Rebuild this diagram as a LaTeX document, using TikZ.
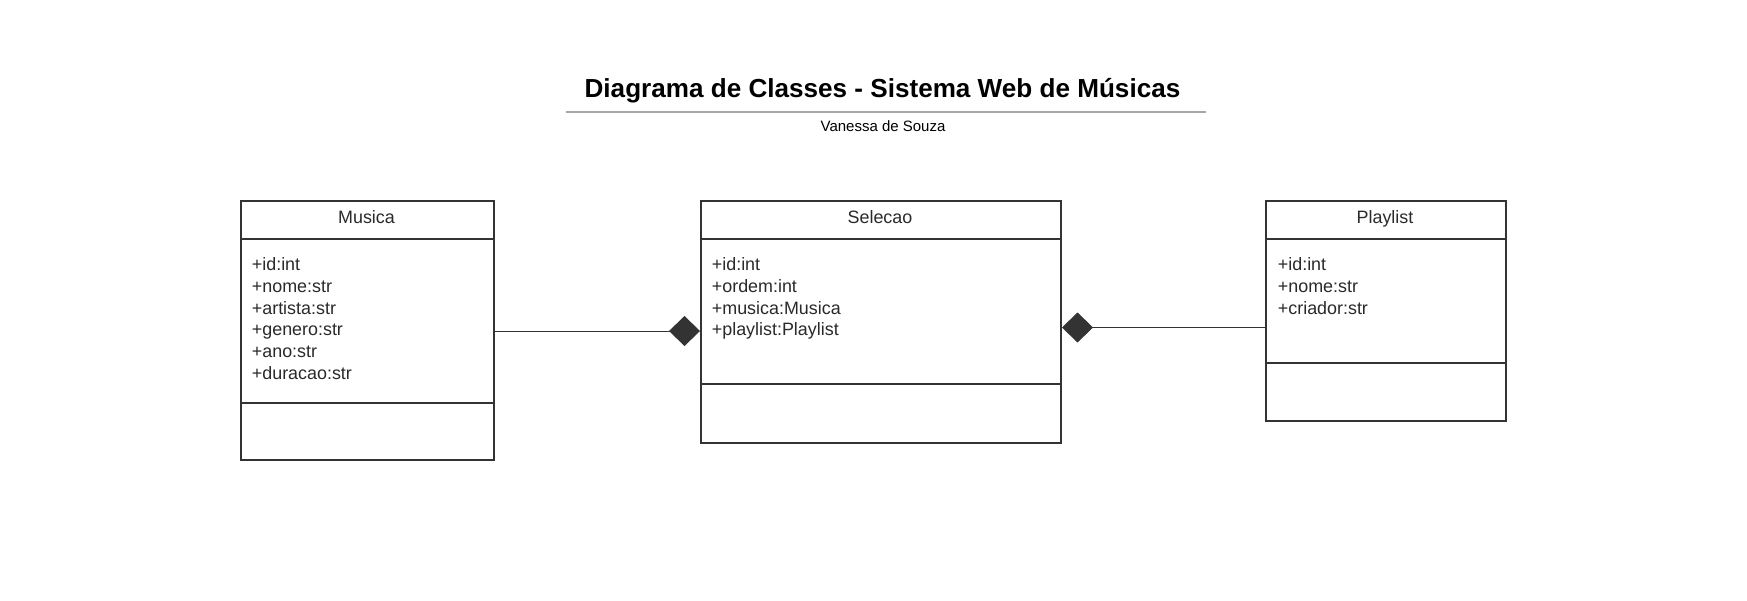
\documentclass[tikz,border=0pt]{standalone}
\usepackage{fontspec}
\setmainfont{Liberation Sans}
\usetikzlibrary{arrows.meta,calc}
\definecolor{boxc}{HTML}{333333}
\definecolor{textc}{HTML}{2A2A2A}
\definecolor{rulec}{HTML}{A6A6A6}
\tikzset{
  compart/.style={draw=boxc, line width=2pt, anchor=north west, inner sep=0pt, fill=white},
  hdrtext/.style={anchor=base, inner sep=0pt, text=textc, font=\fontsize{17.9}{21.7}\selectfont},
  attrtext/.style={anchor=base west, inner sep=0pt, text=textc, font=\fontsize{17.9}{21.7}\selectfont},
  titletext/.style={anchor=base, inner sep=0pt, text=black, font=\bfseries\fontsize{26.1}{30}\selectfont},
  subtext/.style={anchor=base, inner sep=0pt, text=black, font=\fontsize{15}{18}\selectfont},
  titlerule/.style={draw=rulec, line width=2pt},
  assoc/.style={draw=boxc, line width=1pt},
  comptip/.tip={Diamond[length=31pt, width=30pt, fill=boxc, color=boxc]}
}
\begin{document}
\begin{tikzpicture}[x=1pt,y=-1pt]
\useasboundingbox[fill=white] (0,0) rectangle (1747,600);

% title
\node[titletext] (title) at (882.5,97.7) {Diagrama de Classes - Sistema Web de Músicas};
\coordinate (ruleL) at (566,111.7);
\coordinate (ruleR) at (1206,111.7);
\draw[titlerule] (ruleL) -- (ruleR);
\node[subtext] (subtitle) at (883,131) {Vanessa de Souza};

% Musica
\node[compart, minimum width=253pt, minimum height=37.7pt] (musH) at (240,200) {};
\node[compart, minimum width=253pt, minimum height=164.6pt] (musA) at (240,237.7) {};
\node[compart, minimum width=253pt, minimum height=57pt] (musM) at (240,402.3) {};
\node[hdrtext] (musT) at (366.5,223.3) {Musica};
\foreach [count=\i] \t in {+id:int,+nome:str,+artista:str,+genero:str,+ano:str,+duracao:str}
  \node[attrtext] (mus-\i) at (251.7,{270.8+21.65*(\i-1)}) {\t};

% Selecao
\node[compart, minimum width=360pt, minimum height=37.7pt] (selH) at (700,200) {};
\node[compart, minimum width=360pt, minimum height=145pt] (selA) at (700,237.7) {};
\node[compart, minimum width=360pt, minimum height=59pt] (selM) at (700,382.7) {};
\node[hdrtext] (selT) at (880,223.3) {Selecao};
\foreach [count=\i] \t in {+id:int,+ordem:int,+musica:Musica,+playlist:Playlist}
  \node[attrtext] (sel-\i) at (711.7,{270.8+21.65*(\i-1)}) {\t};

% Playlist
\node[compart, minimum width=240pt, minimum height=37.7pt] (plaH) at (1265,200) {};
\node[compart, minimum width=240pt, minimum height=124pt] (plaA) at (1265,237.7) {};
\node[compart, minimum width=240pt, minimum height=58.3pt] (plaM) at (1265,361.7) {};
\node[hdrtext] (plaT) at (1385,223.3) {Playlist};
\foreach [count=\i] \t in {+id:int,+nome:str,+criador:str}
  \node[attrtext] (pla-\i) at (1277.7,{270.8+21.65*(\i-1)}) {\t};

% connectors (composition)
\draw[assoc, -comptip] ($(musA.east)+(0,10)$) -- ($(selA.west)+(0,19.8)$);
\draw[assoc, comptip-] ($(selA.east)+(0,16.3)$) -- ($(plaA.west)+(0,26.8)$);
\end{tikzpicture}
\end{document}
